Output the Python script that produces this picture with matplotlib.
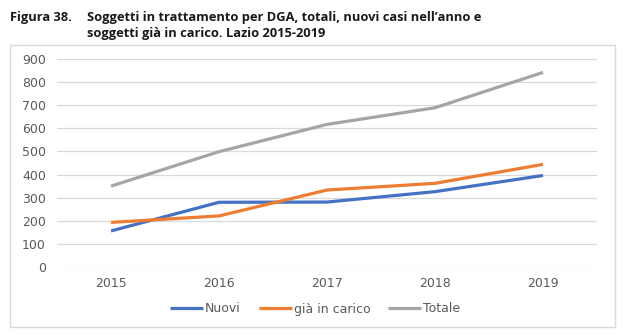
import matplotlib
matplotlib.use("Agg")
import matplotlib.pyplot as plt
from matplotlib.patches import Rectangle

years = ["2015", "2016", "2017", "2018", "2019"]
nuovi = [156, 280, 281, 326, 396]
gia_in_carico = [193, 221, 333, 362, 444]
totale = [350, 499, 617, 689, 842]
yticks = [0, 100, 200, 300, 400, 500, 600, 700, 800, 900]

W, H = 624, 336
fig = plt.figure(figsize=(W/100, H/100), dpi=100)

def fx(px): return px / W
def fy(py): return 1 - py / H

# border box
fig.patches.append(Rectangle((fx(10), fy(327)), fx(615) - fx(10), fy(45) - fy(327),
                             transform=fig.transFigure, fill=False, edgecolor="#d9d9d9", lw=1))

tfont = dict(family="Open Sans", fontsize=9.25, fontweight="bold", va="center", ha="left", color="#1a1a1a")
fig.text(fx(10), fy(17), "Figura 38.", **tfont)
fig.text(fx(87), fy(17), "Soggetti in trattamento per DGA, totali, nuovi casi nell\u2019anno e", **tfont)
fig.text(fx(87), fy(34), "soggetti già in carico. Lazio 2015-2019", **tfont)

ax = fig.add_axes([fx(57), fy(267), fx(597) - fx(57), fy(59) - fy(267)])
x = list(range(len(years)))
ax.plot(x, nuovi, color="#4472C4", lw=2.3, label="Nuovi", solid_capstyle="butt")
ax.plot(x, gia_in_carico, color="#ED7D31", lw=2.3, label="già in carico", solid_capstyle="butt")
ax.plot(x, totale, color="#A5A5A5", lw=2.3, label="Totale", solid_capstyle="butt")

ax.set_xlim(-0.5, 4.5)
ax.set_ylim(0, 900)
ax.set_yticks(yticks)
ax.set_xticks(x)
ax.set_xticklabels(years)
ax.grid(axis="y", color="#d9d9d9", lw=0.9)
ax.set_axisbelow(True)
for s in ax.spines.values():
    s.set_visible(False)
ax.tick_params(axis="both", length=0, labelsize=9, colors="#595959", pad=8)
ax.tick_params(axis="x", pad=7)

leg = fig.legend(loc="center", bbox_to_anchor=(fx(315), fy(309)), ncol=3, frameon=False,
                 fontsize=9, handlelength=2.65, handletextpad=0.15, columnspacing=1.45)
for t in leg.get_texts():
    t.set_color("#595959")

fig.savefig("out.png", dpi=100)
